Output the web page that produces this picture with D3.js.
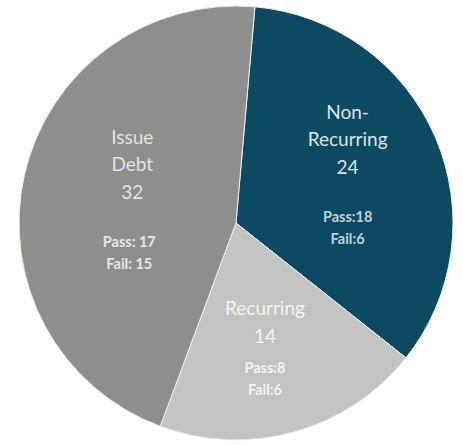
<!DOCTYPE html>
<html>
<head>
   <meta charset="UTF-8">
   <title>Issue pie</title>
   <style>
       body { margin: 0; overflow: hidden; background: white; }
       svg { background: white; display: block; }
       .lbl { font-family: Lato, "Open Sans", sans-serif; text-anchor: middle; dominant-baseline: central; }
       .big { font-size: 19px; }
       .small { font-size: 14.5px; font-weight: bold; }
   </style>
   <script src="https://cdnjs.cloudflare.com/ajax/libs/d3/7.8.5/d3.min.js"></script>
</head>
<body>
   <div id="chart"></div>
   <script>
       // data, clockwise from the top
       const names = [["Non-", "Recurring"], ["Recurring"], ["Issue", "Debt"]];
       const keys = ["Non-Recurring", "Recurring", "Issue Debt"];
       const totals = [24, 14, 32];
       const passed = [18, 8, 17];
       const failed = [6, 6, 15];

       const colors = ["#0c4a62", "#c3c3c2", "#8e8f8c"];
       const textColors = ["#dde3e6", "#f4f4f4", "#e2e2e0"];
       const subColors = ["#bfd0da", "#f4f4f4", "#e6e6e4"];

       const width = 463, height = 445;
       const cx = 236, cy = 223, r = 217;

       const svg = d3.select("#chart").append("svg")
           .attr("width", width)
           .attr("height", height);

       const g = svg.append("g").attr("transform", `translate(${cx},${cy})`);

       const rows = keys.map((k, i) => ({key: k, i: i, value: totals[i]}));

       const start = 5 * Math.PI / 180;
       const pie = d3.pie().sort(null).value(d => d.value)
           .startAngle(start).endAngle(start + 2 * Math.PI);

       const arc = d3.arc().innerRadius(0).outerRadius(r);
       const arcs = pie(rows);

       g.selectAll("path.slice")
           .data(arcs)
           .enter().append("path")
           .attr("class", "slice")
           .attr("d", arc)
           .attr("fill", d => colors[d.data.i])
           .attr("stroke", "#e8f2f4")
           .attr("stroke-width", 1);

       // label blocks centred on a point along the slice's middle angle
       arcs.forEach(d => {
           const i = d.data.i;
           const rl = r * (i === 1 ? 0.6 : (i === 0 ? 0.56 : 0.49));
           const p = d3.arc().innerRadius(rl).outerRadius(rl).centroid(d);
           if (i === 1) p[0] -= 6;
           const lines = names[i].length;
           const gap = lines > 1 ? 50 : 32;
           const bigStep = 27.5, smallStep = 22;
           const blockH = lines * bigStep + gap + smallStep;
           let y = p[1] - blockH / 2;
           const blk = g.append("g");
           names[i].forEach(n => {
               blk.append("text").attr("class", "lbl big")
                   .attr("x", p[0]).attr("y", y)
                   .attr("fill", textColors[i]).text(n);
               y += bigStep;
           });
           blk.append("text").attr("class", "lbl big")
               .attr("x", p[0]).attr("y", y)
               .attr("fill", textColors[i]).text(totals[i]);
           y += gap;
           const sx = i === 2 ? p[0] - 3 : p[0];
           blk.append("text").attr("class", "lbl small")
               .attr("x", sx).attr("y", y)
               .attr("fill", subColors[i]).text(i === 2 ? "Pass: " + passed[i] : "Pass:" + passed[i]);
           y += smallStep;
           blk.append("text").attr("class", "lbl small")
               .attr("x", sx).attr("y", y)
               .attr("fill", subColors[i]).text(i === 2 ? "Fail: " + failed[i] : "Fail:" + failed[i]);
       });
   </script>
</body>
</html>
